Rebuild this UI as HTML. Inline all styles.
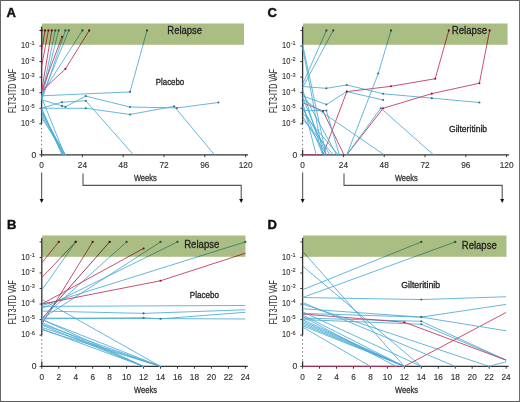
<!DOCTYPE html><html><head><meta charset="utf-8"><style>html,body{margin:0;padding:0;width:520px;height:402px;overflow:hidden;background:#fff}</style></head><body><svg width="520" height="402" viewBox="0 0 520 402" style="position:absolute;left:0;top:0;will-change:transform;font-family:'Liberation Sans',sans-serif">
<rect x="0" y="0" width="520" height="402" fill="#fff"/>
<line x1="41.6" y1="26.50" x2="41.6" y2="123.80" stroke="#333" stroke-width="1.3"/>
<line x1="41.6" y1="123.80" x2="41.6" y2="149.80" stroke="#777" stroke-width="1" stroke-dasharray="1.5,2.5"/>
<line x1="41.6" y1="149.80" x2="41.6" y2="154.80" stroke="#333" stroke-width="1.3"/>
<line x1="39.40" y1="30.50" x2="41.6" y2="30.50" stroke="#333" stroke-width="1"/>
<line x1="39.40" y1="46.05" x2="41.6" y2="46.05" stroke="#333" stroke-width="1"/>
<text x="21.10" y="48.35" font-size="8.2" text-anchor="start" font-weight="normal" fill="#333" stroke="#333" stroke-width="0.12" textLength="8.3" lengthAdjust="spacingAndGlyphs" >10</text>
<text x="29.70" y="45.45" font-size="5.6" text-anchor="start" font-weight="normal" fill="#333" stroke="#333" stroke-width="0.1" >-1</text>
<line x1="39.40" y1="61.60" x2="41.6" y2="61.60" stroke="#333" stroke-width="1"/>
<text x="21.10" y="63.90" font-size="8.2" text-anchor="start" font-weight="normal" fill="#333" stroke="#333" stroke-width="0.12" textLength="8.3" lengthAdjust="spacingAndGlyphs" >10</text>
<text x="29.70" y="61.00" font-size="5.6" text-anchor="start" font-weight="normal" fill="#333" stroke="#333" stroke-width="0.1" >-2</text>
<line x1="39.40" y1="77.15" x2="41.6" y2="77.15" stroke="#333" stroke-width="1"/>
<text x="21.10" y="79.45" font-size="8.2" text-anchor="start" font-weight="normal" fill="#333" stroke="#333" stroke-width="0.12" textLength="8.3" lengthAdjust="spacingAndGlyphs" >10</text>
<text x="29.70" y="76.55" font-size="5.6" text-anchor="start" font-weight="normal" fill="#333" stroke="#333" stroke-width="0.1" >-3</text>
<line x1="39.40" y1="92.70" x2="41.6" y2="92.70" stroke="#333" stroke-width="1"/>
<text x="21.10" y="95.00" font-size="8.2" text-anchor="start" font-weight="normal" fill="#333" stroke="#333" stroke-width="0.12" textLength="8.3" lengthAdjust="spacingAndGlyphs" >10</text>
<text x="29.70" y="92.10" font-size="5.6" text-anchor="start" font-weight="normal" fill="#333" stroke="#333" stroke-width="0.1" >-4</text>
<line x1="39.40" y1="108.25" x2="41.6" y2="108.25" stroke="#333" stroke-width="1"/>
<text x="21.10" y="110.55" font-size="8.2" text-anchor="start" font-weight="normal" fill="#333" stroke="#333" stroke-width="0.12" textLength="8.3" lengthAdjust="spacingAndGlyphs" >10</text>
<text x="29.70" y="107.65" font-size="5.6" text-anchor="start" font-weight="normal" fill="#333" stroke="#333" stroke-width="0.1" >-5</text>
<line x1="39.40" y1="123.80" x2="41.6" y2="123.80" stroke="#333" stroke-width="1"/>
<text x="21.10" y="126.10" font-size="8.2" text-anchor="start" font-weight="normal" fill="#333" stroke="#333" stroke-width="0.12" textLength="8.3" lengthAdjust="spacingAndGlyphs" >10</text>
<text x="29.70" y="123.20" font-size="5.6" text-anchor="start" font-weight="normal" fill="#333" stroke="#333" stroke-width="0.1" >-6</text>
<line x1="39.40" y1="154.80" x2="41.6" y2="154.80" stroke="#333" stroke-width="1"/>
<text x="36.40" y="157.80" font-size="8.6" text-anchor="end" font-weight="normal" fill="#333" stroke="#333" stroke-width="0.15" >0</text>
<line x1="41.00" y1="154.80" x2="248.10" y2="154.80" stroke="#333" stroke-width="1.3"/>
<line x1="41.60" y1="154.80" x2="41.60" y2="157.10" stroke="#333" stroke-width="1"/>
<text x="41.60" y="168.10" font-size="8.8" text-anchor="middle" font-weight="normal" fill="#333" stroke="#333" stroke-width="0.15" textLength="4.6" lengthAdjust="spacingAndGlyphs" >0</text>
<line x1="82.40" y1="154.80" x2="82.40" y2="157.10" stroke="#333" stroke-width="1"/>
<text x="82.40" y="168.10" font-size="8.8" text-anchor="middle" font-weight="normal" fill="#333" stroke="#333" stroke-width="0.15" textLength="9.2" lengthAdjust="spacingAndGlyphs" >24</text>
<line x1="123.20" y1="154.80" x2="123.20" y2="157.10" stroke="#333" stroke-width="1"/>
<text x="123.20" y="168.10" font-size="8.8" text-anchor="middle" font-weight="normal" fill="#333" stroke="#333" stroke-width="0.15" textLength="9.2" lengthAdjust="spacingAndGlyphs" >48</text>
<line x1="164.00" y1="154.80" x2="164.00" y2="157.10" stroke="#333" stroke-width="1"/>
<text x="164.00" y="168.10" font-size="8.8" text-anchor="middle" font-weight="normal" fill="#333" stroke="#333" stroke-width="0.15" textLength="9.2" lengthAdjust="spacingAndGlyphs" >72</text>
<line x1="204.80" y1="154.80" x2="204.80" y2="157.10" stroke="#333" stroke-width="1"/>
<text x="204.80" y="168.10" font-size="8.8" text-anchor="middle" font-weight="normal" fill="#333" stroke="#333" stroke-width="0.15" textLength="9.2" lengthAdjust="spacingAndGlyphs" >96</text>
<line x1="245.60" y1="154.80" x2="245.60" y2="157.10" stroke="#333" stroke-width="1"/>
<text x="245.60" y="168.10" font-size="8.8" text-anchor="middle" font-weight="normal" fill="#333" stroke="#333" stroke-width="0.15" textLength="13.799999999999999" lengthAdjust="spacingAndGlyphs" >120</text>
<text x="0" y="0" font-size="10" text-anchor="middle" fill="#333" stroke="#333" stroke-width="0.08" textLength="44" lengthAdjust="spacingAndGlyphs" transform="translate(15.80,90.90) rotate(-90)">FLT3-ITD VAF</text>
<line x1="302.6" y1="26.50" x2="302.6" y2="123.80" stroke="#333" stroke-width="1.3"/>
<line x1="302.6" y1="123.80" x2="302.6" y2="149.80" stroke="#777" stroke-width="1" stroke-dasharray="1.5,2.5"/>
<line x1="302.6" y1="149.80" x2="302.6" y2="154.80" stroke="#333" stroke-width="1.3"/>
<line x1="300.40" y1="30.50" x2="302.6" y2="30.50" stroke="#333" stroke-width="1"/>
<line x1="300.40" y1="46.05" x2="302.6" y2="46.05" stroke="#333" stroke-width="1"/>
<text x="282.10" y="48.35" font-size="8.2" text-anchor="start" font-weight="normal" fill="#333" stroke="#333" stroke-width="0.12" textLength="8.3" lengthAdjust="spacingAndGlyphs" >10</text>
<text x="290.70" y="45.45" font-size="5.6" text-anchor="start" font-weight="normal" fill="#333" stroke="#333" stroke-width="0.1" >-1</text>
<line x1="300.40" y1="61.60" x2="302.6" y2="61.60" stroke="#333" stroke-width="1"/>
<text x="282.10" y="63.90" font-size="8.2" text-anchor="start" font-weight="normal" fill="#333" stroke="#333" stroke-width="0.12" textLength="8.3" lengthAdjust="spacingAndGlyphs" >10</text>
<text x="290.70" y="61.00" font-size="5.6" text-anchor="start" font-weight="normal" fill="#333" stroke="#333" stroke-width="0.1" >-2</text>
<line x1="300.40" y1="77.15" x2="302.6" y2="77.15" stroke="#333" stroke-width="1"/>
<text x="282.10" y="79.45" font-size="8.2" text-anchor="start" font-weight="normal" fill="#333" stroke="#333" stroke-width="0.12" textLength="8.3" lengthAdjust="spacingAndGlyphs" >10</text>
<text x="290.70" y="76.55" font-size="5.6" text-anchor="start" font-weight="normal" fill="#333" stroke="#333" stroke-width="0.1" >-3</text>
<line x1="300.40" y1="92.70" x2="302.6" y2="92.70" stroke="#333" stroke-width="1"/>
<text x="282.10" y="95.00" font-size="8.2" text-anchor="start" font-weight="normal" fill="#333" stroke="#333" stroke-width="0.12" textLength="8.3" lengthAdjust="spacingAndGlyphs" >10</text>
<text x="290.70" y="92.10" font-size="5.6" text-anchor="start" font-weight="normal" fill="#333" stroke="#333" stroke-width="0.1" >-4</text>
<line x1="300.40" y1="108.25" x2="302.6" y2="108.25" stroke="#333" stroke-width="1"/>
<text x="282.10" y="110.55" font-size="8.2" text-anchor="start" font-weight="normal" fill="#333" stroke="#333" stroke-width="0.12" textLength="8.3" lengthAdjust="spacingAndGlyphs" >10</text>
<text x="290.70" y="107.65" font-size="5.6" text-anchor="start" font-weight="normal" fill="#333" stroke="#333" stroke-width="0.1" >-5</text>
<line x1="300.40" y1="123.80" x2="302.6" y2="123.80" stroke="#333" stroke-width="1"/>
<text x="282.10" y="126.10" font-size="8.2" text-anchor="start" font-weight="normal" fill="#333" stroke="#333" stroke-width="0.12" textLength="8.3" lengthAdjust="spacingAndGlyphs" >10</text>
<text x="290.70" y="123.20" font-size="5.6" text-anchor="start" font-weight="normal" fill="#333" stroke="#333" stroke-width="0.1" >-6</text>
<line x1="300.40" y1="154.80" x2="302.6" y2="154.80" stroke="#333" stroke-width="1"/>
<text x="297.40" y="157.80" font-size="8.6" text-anchor="end" font-weight="normal" fill="#333" stroke="#333" stroke-width="0.15" >0</text>
<line x1="302.00" y1="154.80" x2="509.10" y2="154.80" stroke="#333" stroke-width="1.3"/>
<line x1="302.60" y1="154.80" x2="302.60" y2="157.10" stroke="#333" stroke-width="1"/>
<text x="302.60" y="168.10" font-size="8.8" text-anchor="middle" font-weight="normal" fill="#333" stroke="#333" stroke-width="0.15" textLength="4.6" lengthAdjust="spacingAndGlyphs" >0</text>
<line x1="343.40" y1="154.80" x2="343.40" y2="157.10" stroke="#333" stroke-width="1"/>
<text x="343.40" y="168.10" font-size="8.8" text-anchor="middle" font-weight="normal" fill="#333" stroke="#333" stroke-width="0.15" textLength="9.2" lengthAdjust="spacingAndGlyphs" >24</text>
<line x1="384.20" y1="154.80" x2="384.20" y2="157.10" stroke="#333" stroke-width="1"/>
<text x="384.20" y="168.10" font-size="8.8" text-anchor="middle" font-weight="normal" fill="#333" stroke="#333" stroke-width="0.15" textLength="9.2" lengthAdjust="spacingAndGlyphs" >48</text>
<line x1="425.00" y1="154.80" x2="425.00" y2="157.10" stroke="#333" stroke-width="1"/>
<text x="425.00" y="168.10" font-size="8.8" text-anchor="middle" font-weight="normal" fill="#333" stroke="#333" stroke-width="0.15" textLength="9.2" lengthAdjust="spacingAndGlyphs" >72</text>
<line x1="465.80" y1="154.80" x2="465.80" y2="157.10" stroke="#333" stroke-width="1"/>
<text x="465.80" y="168.10" font-size="8.8" text-anchor="middle" font-weight="normal" fill="#333" stroke="#333" stroke-width="0.15" textLength="9.2" lengthAdjust="spacingAndGlyphs" >96</text>
<line x1="506.60" y1="154.80" x2="506.60" y2="157.10" stroke="#333" stroke-width="1"/>
<text x="506.60" y="168.10" font-size="8.8" text-anchor="middle" font-weight="normal" fill="#333" stroke="#333" stroke-width="0.15" textLength="13.799999999999999" lengthAdjust="spacingAndGlyphs" >120</text>
<text x="0" y="0" font-size="10" text-anchor="middle" fill="#333" stroke="#333" stroke-width="0.08" textLength="44" lengthAdjust="spacingAndGlyphs" transform="translate(276.80,90.90) rotate(-90)">FLT3-ITD VAF</text>
<line x1="41.8" y1="237.90" x2="41.8" y2="335.14" stroke="#333" stroke-width="1.3"/>
<line x1="41.8" y1="335.14" x2="41.8" y2="361.40" stroke="#777" stroke-width="1" stroke-dasharray="1.5,2.5"/>
<line x1="41.8" y1="361.40" x2="41.8" y2="366.40" stroke="#333" stroke-width="1.3"/>
<line x1="39.60" y1="241.90" x2="41.8" y2="241.90" stroke="#333" stroke-width="1"/>
<line x1="39.60" y1="257.44" x2="41.8" y2="257.44" stroke="#333" stroke-width="1"/>
<text x="21.30" y="259.74" font-size="8.2" text-anchor="start" font-weight="normal" fill="#333" stroke="#333" stroke-width="0.12" textLength="8.3" lengthAdjust="spacingAndGlyphs" >10</text>
<text x="29.90" y="256.84" font-size="5.6" text-anchor="start" font-weight="normal" fill="#333" stroke="#333" stroke-width="0.1" >-1</text>
<line x1="39.60" y1="272.98" x2="41.8" y2="272.98" stroke="#333" stroke-width="1"/>
<text x="21.30" y="275.28" font-size="8.2" text-anchor="start" font-weight="normal" fill="#333" stroke="#333" stroke-width="0.12" textLength="8.3" lengthAdjust="spacingAndGlyphs" >10</text>
<text x="29.90" y="272.38" font-size="5.6" text-anchor="start" font-weight="normal" fill="#333" stroke="#333" stroke-width="0.1" >-2</text>
<line x1="39.60" y1="288.52" x2="41.8" y2="288.52" stroke="#333" stroke-width="1"/>
<text x="21.30" y="290.82" font-size="8.2" text-anchor="start" font-weight="normal" fill="#333" stroke="#333" stroke-width="0.12" textLength="8.3" lengthAdjust="spacingAndGlyphs" >10</text>
<text x="29.90" y="287.92" font-size="5.6" text-anchor="start" font-weight="normal" fill="#333" stroke="#333" stroke-width="0.1" >-3</text>
<line x1="39.60" y1="304.06" x2="41.8" y2="304.06" stroke="#333" stroke-width="1"/>
<text x="21.30" y="306.36" font-size="8.2" text-anchor="start" font-weight="normal" fill="#333" stroke="#333" stroke-width="0.12" textLength="8.3" lengthAdjust="spacingAndGlyphs" >10</text>
<text x="29.90" y="303.46" font-size="5.6" text-anchor="start" font-weight="normal" fill="#333" stroke="#333" stroke-width="0.1" >-4</text>
<line x1="39.60" y1="319.60" x2="41.8" y2="319.60" stroke="#333" stroke-width="1"/>
<text x="21.30" y="321.90" font-size="8.2" text-anchor="start" font-weight="normal" fill="#333" stroke="#333" stroke-width="0.12" textLength="8.3" lengthAdjust="spacingAndGlyphs" >10</text>
<text x="29.90" y="319.00" font-size="5.6" text-anchor="start" font-weight="normal" fill="#333" stroke="#333" stroke-width="0.1" >-5</text>
<line x1="39.60" y1="335.14" x2="41.8" y2="335.14" stroke="#333" stroke-width="1"/>
<text x="21.30" y="337.44" font-size="8.2" text-anchor="start" font-weight="normal" fill="#333" stroke="#333" stroke-width="0.12" textLength="8.3" lengthAdjust="spacingAndGlyphs" >10</text>
<text x="29.90" y="334.54" font-size="5.6" text-anchor="start" font-weight="normal" fill="#333" stroke="#333" stroke-width="0.1" >-6</text>
<line x1="39.60" y1="366.40" x2="41.8" y2="366.40" stroke="#333" stroke-width="1"/>
<text x="36.60" y="369.40" font-size="8.6" text-anchor="end" font-weight="normal" fill="#333" stroke="#333" stroke-width="0.15" >0</text>
<line x1="41.20" y1="366.40" x2="247.82" y2="366.40" stroke="#333" stroke-width="1.3"/>
<line x1="41.80" y1="366.40" x2="41.80" y2="368.70" stroke="#333" stroke-width="1"/>
<text x="41.80" y="379.70" font-size="8.8" text-anchor="middle" font-weight="normal" fill="#333" stroke="#333" stroke-width="0.15" textLength="4.6" lengthAdjust="spacingAndGlyphs" >0</text>
<line x1="58.76" y1="366.40" x2="58.76" y2="368.70" stroke="#333" stroke-width="1"/>
<text x="58.76" y="379.70" font-size="8.8" text-anchor="middle" font-weight="normal" fill="#333" stroke="#333" stroke-width="0.15" textLength="4.6" lengthAdjust="spacingAndGlyphs" >2</text>
<line x1="75.72" y1="366.40" x2="75.72" y2="368.70" stroke="#333" stroke-width="1"/>
<text x="75.72" y="379.70" font-size="8.8" text-anchor="middle" font-weight="normal" fill="#333" stroke="#333" stroke-width="0.15" textLength="4.6" lengthAdjust="spacingAndGlyphs" >4</text>
<line x1="92.68" y1="366.40" x2="92.68" y2="368.70" stroke="#333" stroke-width="1"/>
<text x="92.68" y="379.70" font-size="8.8" text-anchor="middle" font-weight="normal" fill="#333" stroke="#333" stroke-width="0.15" textLength="4.6" lengthAdjust="spacingAndGlyphs" >6</text>
<line x1="109.64" y1="366.40" x2="109.64" y2="368.70" stroke="#333" stroke-width="1"/>
<text x="109.64" y="379.70" font-size="8.8" text-anchor="middle" font-weight="normal" fill="#333" stroke="#333" stroke-width="0.15" textLength="4.6" lengthAdjust="spacingAndGlyphs" >8</text>
<line x1="126.60" y1="366.40" x2="126.60" y2="368.70" stroke="#333" stroke-width="1"/>
<text x="126.60" y="379.70" font-size="8.8" text-anchor="middle" font-weight="normal" fill="#333" stroke="#333" stroke-width="0.15" textLength="9.2" lengthAdjust="spacingAndGlyphs" >10</text>
<line x1="143.56" y1="366.40" x2="143.56" y2="368.70" stroke="#333" stroke-width="1"/>
<text x="143.56" y="379.70" font-size="8.8" text-anchor="middle" font-weight="normal" fill="#333" stroke="#333" stroke-width="0.15" textLength="9.2" lengthAdjust="spacingAndGlyphs" >12</text>
<line x1="160.52" y1="366.40" x2="160.52" y2="368.70" stroke="#333" stroke-width="1"/>
<text x="160.52" y="379.70" font-size="8.8" text-anchor="middle" font-weight="normal" fill="#333" stroke="#333" stroke-width="0.15" textLength="9.2" lengthAdjust="spacingAndGlyphs" >14</text>
<line x1="177.48" y1="366.40" x2="177.48" y2="368.70" stroke="#333" stroke-width="1"/>
<text x="177.48" y="379.70" font-size="8.8" text-anchor="middle" font-weight="normal" fill="#333" stroke="#333" stroke-width="0.15" textLength="9.2" lengthAdjust="spacingAndGlyphs" >16</text>
<line x1="194.44" y1="366.40" x2="194.44" y2="368.70" stroke="#333" stroke-width="1"/>
<text x="194.44" y="379.70" font-size="8.8" text-anchor="middle" font-weight="normal" fill="#333" stroke="#333" stroke-width="0.15" textLength="9.2" lengthAdjust="spacingAndGlyphs" >18</text>
<line x1="211.40" y1="366.40" x2="211.40" y2="368.70" stroke="#333" stroke-width="1"/>
<text x="211.40" y="379.70" font-size="8.8" text-anchor="middle" font-weight="normal" fill="#333" stroke="#333" stroke-width="0.15" textLength="9.2" lengthAdjust="spacingAndGlyphs" >20</text>
<line x1="228.36" y1="366.40" x2="228.36" y2="368.70" stroke="#333" stroke-width="1"/>
<text x="228.36" y="379.70" font-size="8.8" text-anchor="middle" font-weight="normal" fill="#333" stroke="#333" stroke-width="0.15" textLength="9.2" lengthAdjust="spacingAndGlyphs" >22</text>
<line x1="245.32" y1="366.40" x2="245.32" y2="368.70" stroke="#333" stroke-width="1"/>
<text x="245.32" y="379.70" font-size="8.8" text-anchor="middle" font-weight="normal" fill="#333" stroke="#333" stroke-width="0.15" textLength="9.2" lengthAdjust="spacingAndGlyphs" >24</text>
<text x="0" y="0" font-size="10" text-anchor="middle" fill="#333" stroke="#333" stroke-width="0.08" textLength="44" lengthAdjust="spacingAndGlyphs" transform="translate(16.00,302.26) rotate(-90)">FLT3-ITD VAF</text>
<line x1="302.6" y1="237.90" x2="302.6" y2="335.14" stroke="#333" stroke-width="1.3"/>
<line x1="302.6" y1="335.14" x2="302.6" y2="361.40" stroke="#777" stroke-width="1" stroke-dasharray="1.5,2.5"/>
<line x1="302.6" y1="361.40" x2="302.6" y2="366.40" stroke="#333" stroke-width="1.3"/>
<line x1="300.40" y1="241.90" x2="302.6" y2="241.90" stroke="#333" stroke-width="1"/>
<line x1="300.40" y1="257.44" x2="302.6" y2="257.44" stroke="#333" stroke-width="1"/>
<text x="282.10" y="259.74" font-size="8.2" text-anchor="start" font-weight="normal" fill="#333" stroke="#333" stroke-width="0.12" textLength="8.3" lengthAdjust="spacingAndGlyphs" >10</text>
<text x="290.70" y="256.84" font-size="5.6" text-anchor="start" font-weight="normal" fill="#333" stroke="#333" stroke-width="0.1" >-1</text>
<line x1="300.40" y1="272.98" x2="302.6" y2="272.98" stroke="#333" stroke-width="1"/>
<text x="282.10" y="275.28" font-size="8.2" text-anchor="start" font-weight="normal" fill="#333" stroke="#333" stroke-width="0.12" textLength="8.3" lengthAdjust="spacingAndGlyphs" >10</text>
<text x="290.70" y="272.38" font-size="5.6" text-anchor="start" font-weight="normal" fill="#333" stroke="#333" stroke-width="0.1" >-2</text>
<line x1="300.40" y1="288.52" x2="302.6" y2="288.52" stroke="#333" stroke-width="1"/>
<text x="282.10" y="290.82" font-size="8.2" text-anchor="start" font-weight="normal" fill="#333" stroke="#333" stroke-width="0.12" textLength="8.3" lengthAdjust="spacingAndGlyphs" >10</text>
<text x="290.70" y="287.92" font-size="5.6" text-anchor="start" font-weight="normal" fill="#333" stroke="#333" stroke-width="0.1" >-3</text>
<line x1="300.40" y1="304.06" x2="302.6" y2="304.06" stroke="#333" stroke-width="1"/>
<text x="282.10" y="306.36" font-size="8.2" text-anchor="start" font-weight="normal" fill="#333" stroke="#333" stroke-width="0.12" textLength="8.3" lengthAdjust="spacingAndGlyphs" >10</text>
<text x="290.70" y="303.46" font-size="5.6" text-anchor="start" font-weight="normal" fill="#333" stroke="#333" stroke-width="0.1" >-4</text>
<line x1="300.40" y1="319.60" x2="302.6" y2="319.60" stroke="#333" stroke-width="1"/>
<text x="282.10" y="321.90" font-size="8.2" text-anchor="start" font-weight="normal" fill="#333" stroke="#333" stroke-width="0.12" textLength="8.3" lengthAdjust="spacingAndGlyphs" >10</text>
<text x="290.70" y="319.00" font-size="5.6" text-anchor="start" font-weight="normal" fill="#333" stroke="#333" stroke-width="0.1" >-5</text>
<line x1="300.40" y1="335.14" x2="302.6" y2="335.14" stroke="#333" stroke-width="1"/>
<text x="282.10" y="337.44" font-size="8.2" text-anchor="start" font-weight="normal" fill="#333" stroke="#333" stroke-width="0.12" textLength="8.3" lengthAdjust="spacingAndGlyphs" >10</text>
<text x="290.70" y="334.54" font-size="5.6" text-anchor="start" font-weight="normal" fill="#333" stroke="#333" stroke-width="0.1" >-6</text>
<line x1="300.40" y1="366.40" x2="302.6" y2="366.40" stroke="#333" stroke-width="1"/>
<text x="297.40" y="369.40" font-size="8.6" text-anchor="end" font-weight="normal" fill="#333" stroke="#333" stroke-width="0.15" >0</text>
<line x1="302.00" y1="366.40" x2="508.62" y2="366.40" stroke="#333" stroke-width="1.3"/>
<line x1="302.60" y1="366.40" x2="302.60" y2="368.70" stroke="#333" stroke-width="1"/>
<text x="302.60" y="379.70" font-size="8.8" text-anchor="middle" font-weight="normal" fill="#333" stroke="#333" stroke-width="0.15" textLength="4.6" lengthAdjust="spacingAndGlyphs" >0</text>
<line x1="319.56" y1="366.40" x2="319.56" y2="368.70" stroke="#333" stroke-width="1"/>
<text x="319.56" y="379.70" font-size="8.8" text-anchor="middle" font-weight="normal" fill="#333" stroke="#333" stroke-width="0.15" textLength="4.6" lengthAdjust="spacingAndGlyphs" >2</text>
<line x1="336.52" y1="366.40" x2="336.52" y2="368.70" stroke="#333" stroke-width="1"/>
<text x="336.52" y="379.70" font-size="8.8" text-anchor="middle" font-weight="normal" fill="#333" stroke="#333" stroke-width="0.15" textLength="4.6" lengthAdjust="spacingAndGlyphs" >4</text>
<line x1="353.48" y1="366.40" x2="353.48" y2="368.70" stroke="#333" stroke-width="1"/>
<text x="353.48" y="379.70" font-size="8.8" text-anchor="middle" font-weight="normal" fill="#333" stroke="#333" stroke-width="0.15" textLength="4.6" lengthAdjust="spacingAndGlyphs" >6</text>
<line x1="370.44" y1="366.40" x2="370.44" y2="368.70" stroke="#333" stroke-width="1"/>
<text x="370.44" y="379.70" font-size="8.8" text-anchor="middle" font-weight="normal" fill="#333" stroke="#333" stroke-width="0.15" textLength="4.6" lengthAdjust="spacingAndGlyphs" >8</text>
<line x1="387.40" y1="366.40" x2="387.40" y2="368.70" stroke="#333" stroke-width="1"/>
<text x="387.40" y="379.70" font-size="8.8" text-anchor="middle" font-weight="normal" fill="#333" stroke="#333" stroke-width="0.15" textLength="9.2" lengthAdjust="spacingAndGlyphs" >10</text>
<line x1="404.36" y1="366.40" x2="404.36" y2="368.70" stroke="#333" stroke-width="1"/>
<text x="404.36" y="379.70" font-size="8.8" text-anchor="middle" font-weight="normal" fill="#333" stroke="#333" stroke-width="0.15" textLength="9.2" lengthAdjust="spacingAndGlyphs" >12</text>
<line x1="421.32" y1="366.40" x2="421.32" y2="368.70" stroke="#333" stroke-width="1"/>
<text x="421.32" y="379.70" font-size="8.8" text-anchor="middle" font-weight="normal" fill="#333" stroke="#333" stroke-width="0.15" textLength="9.2" lengthAdjust="spacingAndGlyphs" >14</text>
<line x1="438.28" y1="366.40" x2="438.28" y2="368.70" stroke="#333" stroke-width="1"/>
<text x="438.28" y="379.70" font-size="8.8" text-anchor="middle" font-weight="normal" fill="#333" stroke="#333" stroke-width="0.15" textLength="9.2" lengthAdjust="spacingAndGlyphs" >16</text>
<line x1="455.24" y1="366.40" x2="455.24" y2="368.70" stroke="#333" stroke-width="1"/>
<text x="455.24" y="379.70" font-size="8.8" text-anchor="middle" font-weight="normal" fill="#333" stroke="#333" stroke-width="0.15" textLength="9.2" lengthAdjust="spacingAndGlyphs" >18</text>
<line x1="472.20" y1="366.40" x2="472.20" y2="368.70" stroke="#333" stroke-width="1"/>
<text x="472.20" y="379.70" font-size="8.8" text-anchor="middle" font-weight="normal" fill="#333" stroke="#333" stroke-width="0.15" textLength="9.2" lengthAdjust="spacingAndGlyphs" >20</text>
<line x1="489.16" y1="366.40" x2="489.16" y2="368.70" stroke="#333" stroke-width="1"/>
<text x="489.16" y="379.70" font-size="8.8" text-anchor="middle" font-weight="normal" fill="#333" stroke="#333" stroke-width="0.15" textLength="9.2" lengthAdjust="spacingAndGlyphs" >22</text>
<line x1="506.12" y1="366.40" x2="506.12" y2="368.70" stroke="#333" stroke-width="1"/>
<text x="506.12" y="379.70" font-size="8.8" text-anchor="middle" font-weight="normal" fill="#333" stroke="#333" stroke-width="0.15" textLength="9.2" lengthAdjust="spacingAndGlyphs" >24</text>
<text x="0" y="0" font-size="10" text-anchor="middle" fill="#333" stroke="#333" stroke-width="0.08" textLength="44" lengthAdjust="spacingAndGlyphs" transform="translate(276.80,302.26) rotate(-90)">FLT3-ITD VAF</text>
<path d="M41.60,91.15 L41.60,30.50" fill="none" stroke="#7a2340" stroke-width="0.85" stroke-linejoin="round"/>
<path d="M41.60,51.49 L45.00,30.50" fill="none" stroke="#c03058" stroke-width="0.85" stroke-linejoin="round"/>
<path d="M41.60,66.27 L48.40,30.50" fill="none" stroke="#c03058" stroke-width="0.85" stroke-linejoin="round"/>
<path d="M41.60,91.15 L51.80,30.50" fill="none" stroke="#c03058" stroke-width="0.85" stroke-linejoin="round"/>
<path d="M41.60,97.36 L55.20,30.50" fill="none" stroke="#4aaad4" stroke-width="0.85" stroke-linejoin="round"/>
<path d="M41.60,98.92 L58.60,30.50" fill="none" stroke="#4aaad4" stroke-width="0.85" stroke-linejoin="round"/>
<path d="M41.60,91.15 L62.00,36.72" fill="none" stroke="#c03058" stroke-width="0.85" stroke-linejoin="round"/>
<path d="M41.60,100.48 L65.40,30.50" fill="none" stroke="#4aaad4" stroke-width="0.85" stroke-linejoin="round"/>
<path d="M41.60,97.36 L68.80,30.50" fill="none" stroke="#4aaad4" stroke-width="0.85" stroke-linejoin="round"/>
<path d="M41.60,94.25 L82.40,30.50" fill="none" stroke="#4aaad4" stroke-width="0.85" stroke-linejoin="round"/>
<path d="M41.60,91.15 L65.40,68.91 L89.20,30.50" fill="none" stroke="#c03058" stroke-width="0.85" stroke-linejoin="round"/>
<path d="M41.60,95.81 L130.00,91.92 L147.00,30.50" fill="none" stroke="#4aaad4" stroke-width="0.85" stroke-linejoin="round"/>
<path d="M41.60,99.70 L62.00,105.92 L65.40,106.85 L85.80,96.12 L130.00,107.01 L176.92,107.94 L218.40,102.50" fill="none" stroke="#4aaad4" stroke-width="0.85" stroke-linejoin="round"/>
<path d="M41.60,108.25 L62.00,102.19 L85.80,100.79 L133.40,154.80" fill="none" stroke="#4aaad4" stroke-width="0.85" stroke-linejoin="round"/>
<path d="M41.60,108.25 L85.80,108.25 L130.00,114.47 L174.20,106.38 L214.49,154.80" fill="none" stroke="#4aaad4" stroke-width="0.85" stroke-linejoin="round"/>
<path d="M41.60,97.36 L64.55,154.80" fill="none" stroke="#4aaad4" stroke-width="0.85" stroke-linejoin="round"/>
<path d="M41.60,108.25 L62.00,154.80" fill="none" stroke="#4aaad4" stroke-width="0.85" stroke-linejoin="round"/>
<path d="M41.60,109.80 L63.70,154.80" fill="none" stroke="#4aaad4" stroke-width="0.85" stroke-linejoin="round"/>
<path d="M41.60,111.36 L62.85,154.80" fill="none" stroke="#4aaad4" stroke-width="0.85" stroke-linejoin="round"/>
<path d="M41.60,112.92 L65.40,154.80" fill="none" stroke="#4aaad4" stroke-width="0.85" stroke-linejoin="round"/>
<path d="M41.60,115.25 L63.70,154.80" fill="none" stroke="#4aaad4" stroke-width="0.85" stroke-linejoin="round"/>
<path d="M41.60,117.58 L65.40,154.80" fill="none" stroke="#4aaad4" stroke-width="0.85" stroke-linejoin="round"/>
<circle cx="55.20" cy="30.50" r="1.15" fill="#336f8c"/>
<circle cx="58.60" cy="30.50" r="1.15" fill="#336f8c"/>
<circle cx="65.40" cy="30.50" r="1.15" fill="#336f8c"/>
<circle cx="68.80" cy="30.50" r="1.15" fill="#336f8c"/>
<circle cx="82.40" cy="30.50" r="1.15" fill="#336f8c"/>
<circle cx="130.00" cy="91.92" r="1.05" fill="#336f8c"/>
<circle cx="147.00" cy="30.50" r="1.15" fill="#336f8c"/>
<circle cx="62.00" cy="105.92" r="1.05" fill="#336f8c"/>
<circle cx="65.40" cy="106.85" r="1.05" fill="#336f8c"/>
<circle cx="85.80" cy="96.12" r="1.05" fill="#336f8c"/>
<circle cx="130.00" cy="107.01" r="1.05" fill="#336f8c"/>
<circle cx="176.92" cy="107.94" r="1.05" fill="#336f8c"/>
<circle cx="218.40" cy="102.50" r="1.05" fill="#336f8c"/>
<circle cx="62.00" cy="102.19" r="1.05" fill="#336f8c"/>
<circle cx="85.80" cy="100.79" r="1.05" fill="#336f8c"/>
<circle cx="85.80" cy="108.25" r="1.05" fill="#336f8c"/>
<circle cx="130.00" cy="114.47" r="1.05" fill="#336f8c"/>
<circle cx="174.20" cy="106.38" r="1.05" fill="#336f8c"/>
<circle cx="41.60" cy="30.50" r="1.15" fill="#4a1030"/>
<circle cx="45.00" cy="30.50" r="1.15" fill="#a0103a"/>
<circle cx="48.40" cy="30.50" r="1.15" fill="#a0103a"/>
<circle cx="51.80" cy="30.50" r="1.15" fill="#a0103a"/>
<circle cx="62.00" cy="36.72" r="1.05" fill="#a0103a"/>
<circle cx="65.40" cy="68.91" r="1.05" fill="#a0103a"/>
<circle cx="89.20" cy="30.50" r="1.15" fill="#a0103a"/>
<rect x="42.00" y="23.5" width="202.00" height="21.30" fill="#aabd82" style="mix-blend-mode:multiply"/>
<path d="M41.80,262.88 L58.76,241.90" fill="none" stroke="#c03058" stroke-width="0.85" stroke-linejoin="round"/>
<path d="M41.80,277.64 L75.72,241.90" fill="none" stroke="#c03058" stroke-width="0.85" stroke-linejoin="round"/>
<path d="M41.80,290.07 L75.72,241.90" fill="none" stroke="#4aaad4" stroke-width="0.85" stroke-linejoin="round"/>
<path d="M41.80,324.26 L92.68,241.90" fill="none" stroke="#c03058" stroke-width="0.85" stroke-linejoin="round"/>
<path d="M41.80,318.82 L109.64,241.90" fill="none" stroke="#7a2340" stroke-width="0.85" stroke-linejoin="round"/>
<path d="M41.80,318.05 L126.60,241.90" fill="none" stroke="#4aaad4" stroke-width="0.85" stroke-linejoin="round"/>
<path d="M41.80,304.06 L143.56,248.43" fill="none" stroke="#c03058" stroke-width="0.85" stroke-linejoin="round"/>
<path d="M41.80,318.82 L160.52,241.90" fill="none" stroke="#4aaad4" stroke-width="0.85" stroke-linejoin="round"/>
<path d="M41.80,308.72 L177.48,241.90" fill="none" stroke="#4aaad4" stroke-width="0.85" stroke-linejoin="round"/>
<path d="M41.80,305.61 L245.32,241.90" fill="none" stroke="#4aaad4" stroke-width="0.85" stroke-linejoin="round"/>
<path d="M41.80,304.06 L160.52,280.75 L245.32,253.24" fill="none" stroke="#c03058" stroke-width="0.85" stroke-linejoin="round"/>
<path d="M41.80,306.39 L245.32,305.46" fill="none" stroke="#4aaad4" stroke-width="0.85" stroke-linejoin="round"/>
<path d="M41.80,311.05 L143.56,313.38 L245.32,309.81" fill="none" stroke="#4aaad4" stroke-width="0.85" stroke-linejoin="round"/>
<path d="M41.80,318.82 L143.56,317.74 L160.52,318.82 L245.32,312.30" fill="none" stroke="#4aaad4" stroke-width="0.85" stroke-linejoin="round"/>
<path d="M41.80,318.05 L245.32,318.98" fill="none" stroke="#4aaad4" stroke-width="0.85" stroke-linejoin="round"/>
<path d="M41.80,299.40 L160.52,366.40" fill="none" stroke="#4aaad4" stroke-width="0.85" stroke-linejoin="round"/>
<path d="M41.80,319.29 L143.56,366.40" fill="none" stroke="#4aaad4" stroke-width="0.85" stroke-linejoin="round"/>
<path d="M41.80,319.60 L160.52,366.40" fill="none" stroke="#4aaad4" stroke-width="0.85" stroke-linejoin="round"/>
<path d="M41.80,322.55 L143.56,366.40" fill="none" stroke="#4aaad4" stroke-width="0.85" stroke-linejoin="round"/>
<path d="M41.80,324.26 L160.52,366.40" fill="none" stroke="#4aaad4" stroke-width="0.85" stroke-linejoin="round"/>
<path d="M41.80,325.04 L143.56,366.40" fill="none" stroke="#4aaad4" stroke-width="0.85" stroke-linejoin="round"/>
<path d="M41.80,327.37 L160.52,366.40" fill="none" stroke="#4aaad4" stroke-width="0.85" stroke-linejoin="round"/>
<path d="M41.80,328.92 L143.56,366.40" fill="none" stroke="#4aaad4" stroke-width="0.85" stroke-linejoin="round"/>
<path d="M41.80,329.70 L160.52,366.40" fill="none" stroke="#4aaad4" stroke-width="0.85" stroke-linejoin="round"/>
<circle cx="75.72" cy="241.90" r="1.15" fill="#336f8c"/>
<circle cx="126.60" cy="241.90" r="1.15" fill="#336f8c"/>
<circle cx="160.52" cy="241.90" r="1.15" fill="#336f8c"/>
<circle cx="177.48" cy="241.90" r="1.15" fill="#336f8c"/>
<circle cx="245.32" cy="241.90" r="1.15" fill="#336f8c"/>
<circle cx="143.56" cy="313.38" r="1.05" fill="#336f8c"/>
<circle cx="143.56" cy="317.74" r="1.05" fill="#336f8c"/>
<circle cx="160.52" cy="318.82" r="1.05" fill="#336f8c"/>
<circle cx="109.64" cy="241.90" r="1.15" fill="#4a1030"/>
<circle cx="58.76" cy="241.90" r="1.15" fill="#a0103a"/>
<circle cx="75.72" cy="241.90" r="1.15" fill="#a0103a"/>
<circle cx="92.68" cy="241.90" r="1.15" fill="#a0103a"/>
<circle cx="143.56" cy="248.43" r="1.05" fill="#a0103a"/>
<circle cx="160.52" cy="280.75" r="1.05" fill="#a0103a"/>
<rect x="42.20" y="235.5" width="203.30" height="21.30" fill="#aabd82" style="mix-blend-mode:multiply"/>
<path d="M302.60,84.15 L326.40,30.50" fill="none" stroke="#4aaad4" stroke-width="0.85" stroke-linejoin="round"/>
<path d="M302.60,87.57 L333.20,30.50" fill="none" stroke="#4aaad4" stroke-width="0.85" stroke-linejoin="round"/>
<path d="M302.60,44.18 L326.06,154.80" fill="none" stroke="#4aaad4" stroke-width="0.85" stroke-linejoin="round"/>
<path d="M302.60,47.61 L323.00,154.80" fill="none" stroke="#4aaad4" stroke-width="0.85" stroke-linejoin="round"/>
<path d="M302.60,86.48 L326.40,88.35 L346.80,84.93 L383.18,93.79 L431.80,98.14 L479.40,102.50" fill="none" stroke="#4aaad4" stroke-width="0.85" stroke-linejoin="round"/>
<path d="M302.60,154.80 L323.00,154.80 L346.80,91.61 L391.00,86.32 L435.20,78.71 L448.80,30.50" fill="none" stroke="#c03058" stroke-width="0.85" stroke-linejoin="round"/>
<path d="M302.60,95.81 L326.40,104.52 L346.80,91.61 L383.18,100.01" fill="none" stroke="#4aaad4" stroke-width="0.85" stroke-linejoin="round"/>
<path d="M302.60,102.65 L323.00,111.05 L343.91,154.80" fill="none" stroke="#c03058" stroke-width="0.85" stroke-linejoin="round"/>
<path d="M302.60,110.58 L326.40,110.58 L339.32,154.80" fill="none" stroke="#4aaad4" stroke-width="0.85" stroke-linejoin="round"/>
<path d="M302.60,98.92 L384.20,154.80" fill="none" stroke="#4aaad4" stroke-width="0.85" stroke-linejoin="round"/>
<path d="M346.80,154.80 L378.25,73.57 L391.00,30.50" fill="none" stroke="#4aaad4" stroke-width="0.85" stroke-linejoin="round"/>
<path d="M346.80,154.80 L383.18,108.25 L431.80,93.63 L479.40,83.21 L489.60,30.50" fill="none" stroke="#c03058" stroke-width="0.85" stroke-linejoin="round"/>
<path d="M346.80,154.80 L380.80,108.25 L433.50,154.80" fill="none" stroke="#4aaad4" stroke-width="0.85" stroke-linejoin="round"/>
<path d="M302.60,89.59 L323.00,154.80" fill="none" stroke="#4aaad4" stroke-width="0.85" stroke-linejoin="round"/>
<path d="M302.60,97.36 L326.40,154.80" fill="none" stroke="#4aaad4" stroke-width="0.85" stroke-linejoin="round"/>
<path d="M302.60,102.03 L316.20,154.80" fill="none" stroke="#4aaad4" stroke-width="0.85" stroke-linejoin="round"/>
<path d="M302.60,106.70 L323.00,154.80" fill="none" stroke="#4aaad4" stroke-width="0.85" stroke-linejoin="round"/>
<path d="M302.60,108.25 L329.80,154.80" fill="none" stroke="#4aaad4" stroke-width="0.85" stroke-linejoin="round"/>
<path d="M302.60,112.92 L338.30,154.80" fill="none" stroke="#4aaad4" stroke-width="0.85" stroke-linejoin="round"/>
<path d="M302.60,116.03 L326.40,154.80" fill="none" stroke="#4aaad4" stroke-width="0.85" stroke-linejoin="round"/>
<path d="M302.60,119.14 L333.20,154.80" fill="none" stroke="#4aaad4" stroke-width="0.85" stroke-linejoin="round"/>
<path d="M302.60,92.70 L336.60,154.80" fill="none" stroke="#4aaad4" stroke-width="0.85" stroke-linejoin="round"/>
<circle cx="326.40" cy="30.50" r="1.15" fill="#336f8c"/>
<circle cx="333.20" cy="30.50" r="1.15" fill="#336f8c"/>
<circle cx="326.40" cy="88.35" r="1.05" fill="#336f8c"/>
<circle cx="346.80" cy="84.93" r="1.05" fill="#336f8c"/>
<circle cx="383.18" cy="93.79" r="1.05" fill="#336f8c"/>
<circle cx="431.80" cy="98.14" r="1.05" fill="#336f8c"/>
<circle cx="479.40" cy="102.50" r="1.05" fill="#336f8c"/>
<circle cx="326.40" cy="104.52" r="1.05" fill="#336f8c"/>
<circle cx="346.80" cy="91.61" r="1.05" fill="#336f8c"/>
<circle cx="383.18" cy="100.01" r="1.05" fill="#336f8c"/>
<circle cx="326.40" cy="110.58" r="1.05" fill="#336f8c"/>
<circle cx="378.25" cy="73.57" r="1.05" fill="#336f8c"/>
<circle cx="391.00" cy="30.50" r="1.15" fill="#336f8c"/>
<circle cx="380.80" cy="108.25" r="1.05" fill="#336f8c"/>
<circle cx="346.80" cy="91.61" r="1.05" fill="#a0103a"/>
<circle cx="391.00" cy="86.32" r="1.05" fill="#a0103a"/>
<circle cx="435.20" cy="78.71" r="1.05" fill="#a0103a"/>
<circle cx="448.80" cy="30.50" r="1.15" fill="#a0103a"/>
<circle cx="323.00" cy="111.05" r="1.05" fill="#a0103a"/>
<circle cx="383.18" cy="108.25" r="1.05" fill="#a0103a"/>
<circle cx="431.80" cy="93.63" r="1.05" fill="#a0103a"/>
<circle cx="479.40" cy="83.21" r="1.05" fill="#a0103a"/>
<circle cx="489.60" cy="30.50" r="1.15" fill="#a0103a"/>
<rect x="303.00" y="23.5" width="204.60" height="21.30" fill="#aabd82" style="mix-blend-mode:multiply"/>
<path d="M302.60,251.22 L404.36,366.40" fill="none" stroke="#4aaad4" stroke-width="0.85" stroke-linejoin="round"/>
<path d="M302.60,265.99 L421.32,366.40" fill="none" stroke="#4aaad4" stroke-width="0.85" stroke-linejoin="round"/>
<path d="M302.60,289.76 L421.32,241.90" fill="none" stroke="#4aaad4" stroke-width="0.85" stroke-linejoin="round"/>
<path d="M302.60,297.53 L455.24,241.90" fill="none" stroke="#4aaad4" stroke-width="0.85" stroke-linejoin="round"/>
<path d="M302.60,297.53 L421.32,299.55 L506.12,296.76" fill="none" stroke="#4aaad4" stroke-width="0.85" stroke-linejoin="round"/>
<path d="M302.60,366.40 L404.36,366.40 L506.12,312.45" fill="none" stroke="#c03058" stroke-width="0.85" stroke-linejoin="round"/>
<path d="M302.60,313.38 L421.32,317.11 L506.12,304.37" fill="none" stroke="#4aaad4" stroke-width="0.85" stroke-linejoin="round"/>
<path d="M302.60,308.72 L421.32,317.11 L506.12,330.79" fill="none" stroke="#4aaad4" stroke-width="0.85" stroke-linejoin="round"/>
<path d="M302.60,318.05 L421.32,321.31 L506.12,360.15" fill="none" stroke="#4aaad4" stroke-width="0.85" stroke-linejoin="round"/>
<path d="M302.60,319.60 L421.32,324.26 L506.12,360.15" fill="none" stroke="#4aaad4" stroke-width="0.85" stroke-linejoin="round"/>
<path d="M302.60,314.01 L404.36,322.24 L506.12,360.15" fill="none" stroke="#c03058" stroke-width="0.85" stroke-linejoin="round"/>
<path d="M302.60,302.51 L455.24,366.40" fill="none" stroke="#4aaad4" stroke-width="0.85" stroke-linejoin="round"/>
<path d="M302.60,304.06 L489.16,366.40" fill="none" stroke="#4aaad4" stroke-width="0.85" stroke-linejoin="round"/>
<path d="M302.60,311.83 L421.32,366.40" fill="none" stroke="#4aaad4" stroke-width="0.85" stroke-linejoin="round"/>
<path d="M302.60,327.06 L370.44,366.40" fill="none" stroke="#4aaad4" stroke-width="0.85" stroke-linejoin="round"/>
<path d="M302.60,319.60 L404.36,366.40" fill="none" stroke="#4aaad4" stroke-width="0.85" stroke-linejoin="round"/>
<path d="M302.60,321.15 L404.36,366.40" fill="none" stroke="#4aaad4" stroke-width="0.85" stroke-linejoin="round"/>
<path d="M302.60,322.71 L404.36,366.40" fill="none" stroke="#4aaad4" stroke-width="0.85" stroke-linejoin="round"/>
<path d="M302.60,324.26 L404.36,366.40" fill="none" stroke="#4aaad4" stroke-width="0.85" stroke-linejoin="round"/>
<path d="M302.60,325.82 L404.36,366.40" fill="none" stroke="#4aaad4" stroke-width="0.85" stroke-linejoin="round"/>
<path d="M302.60,314.94 L404.36,366.40" fill="none" stroke="#4aaad4" stroke-width="0.85" stroke-linejoin="round"/>
<path d="M302.60,316.49 L395.88,366.40" fill="none" stroke="#4aaad4" stroke-width="0.85" stroke-linejoin="round"/>
<path d="M489.16,366.40 L506.12,361.71" fill="none" stroke="#4aaad4" stroke-width="0.85" stroke-linejoin="round"/>
<circle cx="421.32" cy="241.90" r="1.15" fill="#336f8c"/>
<circle cx="455.24" cy="241.90" r="1.15" fill="#336f8c"/>
<circle cx="421.32" cy="299.55" r="1.05" fill="#336f8c"/>
<circle cx="421.32" cy="317.11" r="1.05" fill="#336f8c"/>
<circle cx="421.32" cy="317.11" r="1.05" fill="#336f8c"/>
<circle cx="421.32" cy="321.31" r="1.05" fill="#336f8c"/>
<circle cx="421.32" cy="324.26" r="1.05" fill="#336f8c"/>
<circle cx="404.36" cy="322.24" r="1.05" fill="#a0103a"/>
<rect x="303.00" y="235.5" width="203.50" height="21.30" fill="#aabd82" style="mix-blend-mode:multiply"/>
<text x="6.50" y="17.00" font-size="13" text-anchor="start" font-weight="bold" fill="#111" stroke="#111" stroke-width="0.45" >A</text>
<text x="267.60" y="17.00" font-size="13" text-anchor="start" font-weight="bold" fill="#111" stroke="#111" stroke-width="0.45" >C</text>
<text x="7.00" y="228.80" font-size="13" text-anchor="start" font-weight="bold" fill="#111" stroke="#111" stroke-width="0.45" >B</text>
<text x="267.60" y="228.80" font-size="13" text-anchor="start" font-weight="bold" fill="#111" stroke="#111" stroke-width="0.45" >D</text>
<text x="167.30" y="33.70" font-size="10.4" text-anchor="start" font-weight="normal" fill="#222" stroke="#222" stroke-width="0.3" textLength="34.8" lengthAdjust="spacingAndGlyphs" >Relapse</text>
<text x="451.70" y="33.70" font-size="10.4" text-anchor="start" font-weight="normal" fill="#222" stroke="#222" stroke-width="0.3" textLength="35.4" lengthAdjust="spacingAndGlyphs" >Relapse</text>
<text x="184.20" y="248.30" font-size="10.4" text-anchor="start" font-weight="normal" fill="#222" stroke="#222" stroke-width="0.3" textLength="35.2" lengthAdjust="spacingAndGlyphs" >Relapse</text>
<text x="461.80" y="248.60" font-size="10.4" text-anchor="start" font-weight="normal" fill="#222" stroke="#222" stroke-width="0.3" textLength="34.9" lengthAdjust="spacingAndGlyphs" >Relapse</text>
<text x="155.80" y="84.90" font-size="8.8" text-anchor="start" font-weight="normal" fill="#222" stroke="#222" stroke-width="0.3" textLength="28.4" lengthAdjust="spacingAndGlyphs" >Placebo</text>
<text x="189.80" y="297.90" font-size="8.8" text-anchor="start" font-weight="normal" fill="#222" stroke="#222" stroke-width="0.3" textLength="29.1" lengthAdjust="spacingAndGlyphs" >Placebo</text>
<text x="449.00" y="131.90" font-size="8.8" text-anchor="start" font-weight="normal" fill="#222" stroke="#222" stroke-width="0.3" textLength="38.1" lengthAdjust="spacingAndGlyphs" >Gilteritinib</text>
<text x="401.20" y="287.60" font-size="8.8" text-anchor="start" font-weight="normal" fill="#222" stroke="#222" stroke-width="0.3" textLength="39" lengthAdjust="spacingAndGlyphs" >Gilteritinib</text>
<text x="133.90" y="181.00" font-size="9.9" text-anchor="start" font-weight="normal" fill="#333" stroke="#333" stroke-width="0.35" textLength="22.8" lengthAdjust="spacingAndGlyphs" >Weeks</text>
<text x="394.90" y="181.00" font-size="9.9" text-anchor="start" font-weight="normal" fill="#333" stroke="#333" stroke-width="0.35" textLength="22.8" lengthAdjust="spacingAndGlyphs" >Weeks</text>
<text x="134.10" y="392.60" font-size="9.9" text-anchor="start" font-weight="normal" fill="#333" stroke="#333" stroke-width="0.35" textLength="22.8" lengthAdjust="spacingAndGlyphs" >Weeks</text>
<text x="395.10" y="392.60" font-size="9.9" text-anchor="start" font-weight="normal" fill="#333" stroke="#333" stroke-width="0.35" textLength="22.8" lengthAdjust="spacingAndGlyphs" >Weeks</text>
<line x1="41.6" y1="172.5" x2="41.6" y2="200" stroke="#666" stroke-width="1.2"/>
<path d="M39.6,199 L43.6,199 L41.6,203 Z" fill="#111"/>
<path d="M83,173.5 V185.4 H241.2 V200" fill="none" stroke="#555" stroke-width="1.1"/>
<path d="M239.2,199 L243.2,199 L241.2,203 Z" fill="#111"/>
<line x1="302.6" y1="172.5" x2="302.6" y2="200" stroke="#666" stroke-width="1.2"/>
<path d="M300.6,199 L304.6,199 L302.6,203 Z" fill="#111"/>
<path d="M344,173.5 V185.4 H502.2 V200" fill="none" stroke="#555" stroke-width="1.1"/>
<path d="M500.2,199 L504.2,199 L502.2,203 Z" fill="#111"/>
<rect x="0" y="0" width="520" height="1" fill="#5c5c5c"/>
<rect x="0" y="401" width="520" height="1" fill="#5c5c5c"/>
<rect x="0" y="0" width="1" height="402" fill="#666"/>
<rect x="519" y="0" width="1" height="402" fill="#6e6e6e"/>
</svg></body></html>
